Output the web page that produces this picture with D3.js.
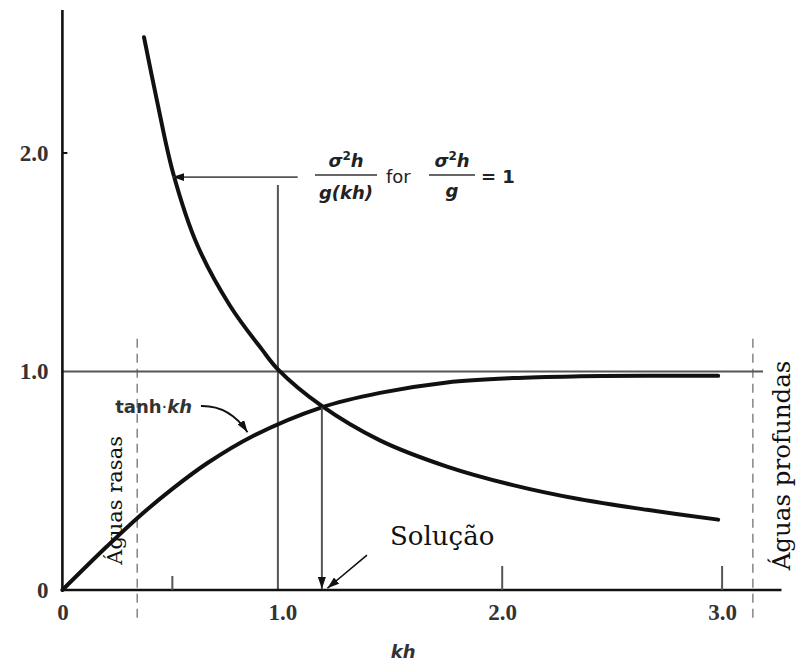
<!DOCTYPE html>
<html>
<head>
<meta charset="utf-8">
<script src="https://cdn.jsdelivr.net/npm/d3@7"></script>
<style>
  html, body { margin: 0; padding: 0; background: #fff; }
  svg { display: block; }
</style>
</head>
<body>
<svg id="chart" width="797" height="664"></svg>
<script>
// ---------- data ----------
const xTickValues = [0, 1, 2, 3];
const xTickLabels = ["0", "1.0", "2.0", "3.0"];
const yTickValues = [0, 1, 2];
const yTickLabels = ["0", "1.0", "2.0"];
const xMinorTicks = [0.5, 2, 3];

// sigma^2 h / (g kh) for sigma^2 h / g = 1
const dispKh  = [0.371, 0.43, 0.503, 0.613, 0.763, 0.908, 0.98, 1.176, 1.444, 1.749, 2.049, 2.354, 2.659, 2.982];
const dispVal = [2.53, 2.24, 1.91, 1.58, 1.30, 1.10, 1.01, 0.845, 0.685, 0.565, 0.48, 0.415, 0.367, 0.322];

// tanh kh
const tanhKh  = [0, 0.203, 0.353, 0.503, 0.658, 0.867, 1.176, 1.444, 1.749, 2.049, 2.354, 2.659, 2.982];
const tanhVal = [0, 0.20, 0.34, 0.465, 0.58, 0.705, 0.835, 0.902, 0.950, 0.970, 0.978, 0.981, 0.980];

// reference lines
const unityLine = 1.0;          // horizontal line at 1.0
const guideKh = 0.98;           // vertical guide at kh = 1
const guideTop = 1.853;
const solutionKh = 1.18;        // solution kh
const solutionVal = 0.835;
const shallowKh = 0.34;         // "Águas rasas" limit
const deepKh = 3.14;            // "Águas profundas" limit

// ---------- layout ----------
const svg = d3.select("#chart");
svg.append("rect").attr("width", 797).attr("height", 664).attr("fill", "#fff");

const x = d3.scaleLinear().domain([0, 3]).range([62.4, 722.1]);
const y = d3.scaleLinear().domain([0, 2]).range([590, 153]);

const defs = svg.append("defs");
defs.append("marker").attr("id", "ah")
  .attr("viewBox", "0 0 12 8").attr("refX", 12).attr("refY", 4)
  .attr("markerWidth", 12).attr("markerHeight", 8).attr("markerUnits", "userSpaceOnUse")
  .attr("orient", "auto")
  .append("path").attr("d", "M0,0 L12,4 L0,8 Z").attr("fill", "#111");

const ink = "#111";
const grey = "#555";

// dashed region limits
[shallowKh, deepKh].forEach(k => {
  svg.append("line")
    .attr("x1", x(k)).attr("x2", x(k))
    .attr("y1", y(1.15)).attr("y2", y(-0.14))
    .attr("stroke", "#666").attr("stroke-width", 1.2)
    .attr("stroke-dasharray", "9,6");
});

// horizontal 1.0 line
svg.append("line")
  .attr("x1", x(0)).attr("x2", x(3.186))
  .attr("y1", y(unityLine)).attr("y2", y(unityLine))
  .attr("stroke", grey).attr("stroke-width", 2);

// vertical guide at kh=1
svg.append("line")
  .attr("x1", x(guideKh)).attr("x2", x(guideKh))
  .attr("y1", y(guideTop)).attr("y2", y(0))
  .attr("stroke", grey).attr("stroke-width", 2);

// axes lines
svg.append("line")
  .attr("x1", x(0)).attr("x2", x(3.27))
  .attr("y1", y(0)).attr("y2", y(0))
  .attr("stroke", ink).attr("stroke-width", 2.6);
svg.append("line")
  .attr("x1", x(0)).attr("x2", x(0))
  .attr("y1", y(0)).attr("y2", y(2.655))
  .attr("stroke", ink).attr("stroke-width", 2.6);

// minor x tick marks
svg.selectAll(".mt").data(xMinorTicks).enter().append("line")
  .attr("x1", d => x(d)).attr("x2", d => x(d))
  .attr("y1", y(0)).attr("y2", d => y(0) - (d === 0.5 ? 14 : 24))
  .attr("stroke", grey).attr("stroke-width", 2);

// x axis labels via d3 axis
const xAxis = d3.axisBottom(x).tickValues(xTickValues)
  .tickFormat((d, i) => xTickLabels[i]).tickSize(0).tickPadding(14);
const gx = svg.append("g").attr("transform", `translate(0,${y(0)})`).call(xAxis);
gx.select(".domain").remove();
gx.selectAll("text")
  .attr("font-family", "'Liberation Serif', serif").attr("font-weight", "bold")
  .attr("font-size", 23).attr("fill", "#333");

// y axis labels via d3 axis
const yAxis = d3.axisLeft(y).tickValues(yTickValues)
  .tickFormat((d, i) => yTickLabels[i]).tickSize(0).tickPadding(14);
const gy = svg.append("g").attr("transform", `translate(${x(0)},0)`).call(yAxis);
gy.select(".domain").remove();
gy.selectAll("text")
  .attr("font-family", "'Liberation Serif', serif").attr("font-weight", "bold")
  .attr("font-size", 23).attr("fill", "#333");

// small y tick at 2.0
svg.append("line")
  .attr("x1", x(0)).attr("x2", x(0) + 5)
  .attr("y1", y(2)).attr("y2", y(2))
  .attr("stroke", ink).attr("stroke-width", 2);

// x axis title
svg.append("text")
  .attr("x", x(1.55)).attr("y", 658)
  .attr("text-anchor", "middle")
  .attr("font-family", "'DejaVu Sans', sans-serif").attr("font-weight", "bold")
  .attr("font-style", "italic").attr("font-size", 18).attr("fill", "#333")
  .text("kh");

// curves
const line = d3.line().x(d => x(d[0])).y(d => y(d[1])).curve(d3.curveCatmullRom.alpha(0.5));
svg.append("path")
  .datum(dispKh.map((k, i) => [k, dispVal[i]]))
  .attr("d", line).attr("fill", "none").attr("stroke", ink)
  .attr("stroke-width", 4).attr("stroke-linecap", "round");
svg.append("path")
  .datum(tanhKh.map((k, i) => [k, tanhVal[i]]))
  .attr("d", line).attr("fill", "none").attr("stroke", ink)
  .attr("stroke-width", 4).attr("stroke-linecap", "round");

// solution arrow (vertical)
svg.append("line")
  .attr("x1", x(solutionKh)).attr("x2", x(solutionKh))
  .attr("y1", y(solutionVal)).attr("y2", y(0) - 1)
  .attr("stroke", grey).attr("stroke-width", 2)
  .attr("marker-end", "url(#ah)");

// Solução diagonal arrow
svg.append("line")
  .attr("x1", x(1.385)).attr("y1", y(0.16))
  .attr("x2", x(1.205)).attr("y2", y(0.008))
  .attr("stroke", ink).attr("stroke-width", 1.6)
  .attr("marker-end", "url(#ah)");

svg.append("text")
  .attr("x", x(1.49)).attr("y", y(0.205))
  .attr("font-family", "'DejaVu Serif', serif").attr("font-size", 26).attr("fill", "#111")
  .text("Solução");

// formula arrow
svg.append("line")
  .attr("x1", x(1.07)).attr("x2", x(0.50))
  .attr("y1", y(1.89)).attr("y2", y(1.89))
  .attr("stroke", grey).attr("stroke-width", 1.8)
  .attr("marker-end", "url(#ah)");

// formula label
const fam = "'DejaVu Sans', sans-serif";
function frac(cx, den, yNum, yBar, yDen, w) {
  const t = svg.append("text").attr("x", cx).attr("y", yNum).attr("text-anchor", "middle")
    .attr("font-family", fam).attr("font-weight", "bold").attr("font-size", 18).attr("fill", "#222");
  t.append("tspan").attr("font-style", "italic").text("σ");
  t.append("tspan").attr("font-size", 12).attr("dy", -7).text("2");
  t.append("tspan").attr("font-style", "italic").attr("dy", 7).text("h");
  svg.append("line").attr("x1", cx - w / 2).attr("x2", cx + w / 2)
    .attr("y1", yBar).attr("y2", yBar).attr("stroke", "#333").attr("stroke-width", 1.5);
  svg.append("text").attr("x", cx).attr("y", yDen).attr("text-anchor", "middle")
    .attr("font-family", fam).attr("font-weight", "bold").attr("font-style", "italic")
    .attr("font-size", 18).attr("fill", "#222").text(den);
}
frac(346, "g(kh)", 167, 175, 199, 62);
svg.append("text").attr("x", 386).attr("y", 183)
  .attr("font-family", fam).attr("font-size", 18).attr("fill", "#222").text("for");
frac(452, "g", 167, 175, 197, 46);
svg.append("text").attr("x", 481).attr("y", 183)
  .attr("font-family", fam).attr("font-weight", "bold").attr("font-size", 18).attr("fill", "#222").text("= 1");

// tanh label
const tl = svg.append("text").attr("x", x(0.24)).attr("y", y(0.81))
  .attr("font-family", fam).attr("font-weight", "bold").attr("font-size", 18).attr("fill", "#333");
tl.append("tspan").text("tanh");
tl.append("tspan").attr("font-weight", "normal").text("·");
tl.append("tspan").attr("font-style", "italic").text("kh");

svg.append("path")
  .attr("d", `M${x(0.63)},${y(0.842)} Q${x(0.76)},${y(0.845)} ${x(0.842)},${y(0.722)}`)
  .attr("fill", "none").attr("stroke", ink).attr("stroke-width", 1.8)
  .attr("marker-end", "url(#ah)");

// rotated region labels
svg.append("text")
  .attr("transform", `translate(${x(0.27)},${y(0.41)}) rotate(-90)`)
  .attr("text-anchor", "middle")
  .attr("font-family", "'DejaVu Serif', serif").attr("font-size", 21).attr("fill", "#111")
  .text("Águas rasas");
svg.append("text")
  .attr("transform", `translate(${x(3.31)},${y(0.57)}) rotate(-90)`)
  .attr("text-anchor", "middle")
  .attr("font-family", "'DejaVu Serif', serif").attr("font-size", 24.5).attr("fill", "#111")
  .text("Águas profundas");
</script>
</body>
</html>
